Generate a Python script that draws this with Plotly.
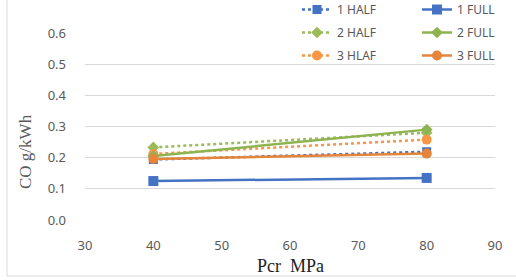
import plotly.graph_objects as go

pressure = [40, 80]
half_1 = [0.194, 0.219]
full_1 = [0.125, 0.135]
half_2 = [0.233, 0.280]
full_2 = [0.205, 0.290]
half_3 = [0.212, 0.258]
full_3 = [0.196, 0.213]

x_ticks = [30, 40, 50, 60, 70, 80, 90]
y_ticks = [0.0, 0.1, 0.2, 0.3, 0.4, 0.5, 0.6]

BLUE = "#4472C4"
GREEN_H = "#9BBB59"
GREEN_F = "#8EB450"
ORANGE_H = "#F79646"
ORANGE_F = "#E58539"

fig = go.Figure()

series = [
    ("1 HALF", half_1, BLUE, "dot", "square", 9, "legend"),
    ("2 HALF", half_2, GREEN_H, "dot", "diamond", 9, "legend"),
    ("3 HLAF", half_3, ORANGE_H, "dot", "circle", 10, "legend"),
    ("1 FULL", full_1, BLUE, "solid", "square", 10, "legend2"),
    ("2 FULL", full_2, GREEN_F, "solid", "diamond", 9, "legend2"),
    ("3 FULL", full_3, ORANGE_F, "solid", "circle", 10, "legend2"),
]
for name, vals, col, dash, sym, size, lg in series:
    fig.add_trace(go.Scatter(
        x=pressure, y=vals, name=name, mode="lines+markers",
        line=dict(color=col, width=2.5, dash=dash),
        marker=dict(color=col, symbol=sym, size=size),
        legend=lg, legendgroup=name,
    ))

W, H = 516, 280
L, R, T, B = 85, 21, 33, 60
pw, ph = W - L - R, H - T - B

def px_x(p):
    return (p - L) / pw

def px_y(p):
    return (H - B - p) / ph

legend_font = dict(family="Noto Sans", size=12, color="#595959")
fig.update_layout(
    width=W, height=H,
    margin=dict(l=L, r=R, t=T, b=B, autoexpand=False),
    paper_bgcolor="white", plot_bgcolor="white",
    font=dict(family="Noto Sans", size=12, color="#595959"),
    xaxis=dict(range=[30, 90], tickvals=x_ticks, showgrid=False, zeroline=False,
               showline=False, ticks="", ticklabelstandoff=16,
               tickfont=dict(size=13, color="#595959")),
    yaxis=dict(range=[0, 0.6], tickvals=y_ticks, tickformat=".1f", showgrid=True,
               gridcolor="#D9D9D9", gridwidth=1, zeroline=False, showline=False,
               ticks="", ticklabelstandoff=18,
               tickfont=dict(size=13, color="#595959")),
    legend=dict(x=px_x(297), y=px_y(-5), xanchor="left", yanchor="top",
                bgcolor="rgba(0,0,0,0)", font=legend_font, tracegroupgap=4,
                itemclick=False),
    legend2=dict(x=px_x(417), y=px_y(-5), xanchor="left", yanchor="top",
                 bgcolor="rgba(0,0,0,0)", font=legend_font, tracegroupgap=4,
                 itemclick=False),
    showlegend=True,
)

# chart border (left and bottom visible)
fig.add_shape(type="line", xref="paper", yref="paper",
              x0=px_x(7), x1=px_x(7), y0=px_y(276), y1=px_y(0),
              line=dict(color="#D9D9D9", width=1))
fig.add_shape(type="line", xref="paper", yref="paper",
              x0=px_x(7), x1=px_x(516), y0=px_y(276), y1=px_y(276),
              line=dict(color="#D9D9D9", width=1))

fig.add_annotation(text="CO g/kWh", xref="paper", yref="paper",
                   x=px_x(25), y=px_y(152), xanchor="center", yanchor="middle",
                   showarrow=False, textangle=-90,
                   font=dict(family="Liberation Serif", size=17, color="#595959"))
fig.add_annotation(text="Pcr  MPa", xref="paper", yref="paper",
                   x=px_x(290), y=px_y(266), xanchor="center", yanchor="middle",
                   showarrow=False,
                   font=dict(family="Liberation Serif", size=18, color="#222222"))

fig.write_html("out.html", config={"displayModeBar": False},
               post_script="document.body.style.margin='0';")
